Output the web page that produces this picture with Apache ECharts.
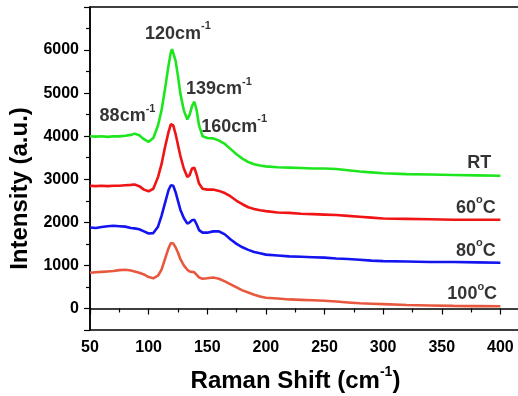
<!DOCTYPE html>
<html>
<head>
<meta charset="utf-8">
<script src="https://cdn.jsdelivr.net/npm/echarts@6/dist/echarts.min.js"></script>
<style>
  html, body { margin: 0; padding: 0; background: #fff; }
  #chart { width: 518px; height: 396px; }
</style>
</head>
<body>
<div id="chart"></div>
<script>
// Raman shift (cm-1)
var shift = [50,55,60,65,70,75,80,85,88,92,96,100,104,108,111,114,117,119,120,121,123,125,127,130,133,135,137,139,141,143,146,150,155,160,165,170,175,180,185,190,195,200,210,220,230,240,250,260,270,280,290,300,320,340,360,380,400];

// intensity, one array per sample
var rtData = [4000,3990,4000,3985,4000,3995,4010,4030,4060,4020,3930,3870,3960,4250,4600,5100,5650,5950,6020,5980,5750,5400,5000,4600,4390,4500,4700,4800,4600,4250,4000,3960,3950,3900,3820,3700,3580,3480,3400,3350,3320,3300,3280,3270,3260,3250,3250,3240,3210,3180,3160,3140,3120,3110,3100,3090,3080];
var t60Data = [2850,2840,2850,2840,2850,2850,2860,2870,2880,2840,2760,2720,2780,3050,3350,3750,4100,4280,4300,4250,4050,3800,3550,3250,3050,3100,3250,3270,3100,2900,2780,2760,2760,2730,2680,2600,2500,2420,2350,2310,2280,2260,2230,2220,2200,2190,2180,2170,2150,2130,2110,2090,2080,2070,2060,2060,2060];
var t80Data = [1880,1870,1890,1910,1920,1910,1900,1870,1860,1840,1790,1740,1750,1900,2150,2450,2750,2860,2880,2850,2700,2500,2300,2100,1970,2000,2050,2060,1950,1820,1760,1760,1790,1790,1720,1600,1500,1420,1360,1310,1280,1250,1230,1210,1200,1190,1180,1160,1150,1130,1110,1100,1090,1080,1080,1070,1060];
var t100Data = [830,840,850,860,870,890,900,880,860,830,790,730,700,760,900,1150,1400,1520,1540,1510,1420,1300,1150,1000,900,860,850,840,780,720,690,700,720,690,630,560,490,420,370,320,280,250,230,210,200,190,180,160,140,120,110,100,80,70,60,55,50];

var sampleNames = ["RT", "60", "80", "100"];
var sampleColors = ["#1ee61e", "#f01414", "#1414f0", "#e8583f"];

// peak annotations
var peakLabels = ["120", "139", "88", "160"];
var peakPos = [[125, 6430], [160, 5135], [82, 4510], [173, 4270]];
// curve labels
var curvePos = [[382, 3420], [379, 2385], [379, 1390], [376, 375]];

var yLabelValues = [0, 1000, 2000, 3000, 4000, 5000, 6000];
var yTickValues = [-500, 0, 1000, 2000, 3000, 4000, 5000, 6000, 7000];
var yMinorValues = [500, 1500, 2500, 3500, 4500, 5500, 6500];

function pairs(ys) {
  var out = [];
  for (var i = 0; i < shift.length; i++) out.push([shift[i], ys[i]]);
  return out;
}

var font = "'Liberation Sans', Arial, sans-serif";
var allData = [rtData, t60Data, t80Data, t100Data];

var richBig = { fontFamily: font, fontWeight: "bold", fontSize: 18, color: "#000", lineHeight: 22, verticalAlign: "bottom" };
var richSup = { fontFamily: font, fontWeight: "bold", fontSize: 11, color: "#000", lineHeight: 22, verticalAlign: "top", padding: [0, 0, 8, 0] };

var series = [];
for (var k = 0; k < allData.length; k++) {
  series.push({
    name: sampleNames[k],
    type: "line",
    data: pairs(allData[k]),
    showSymbol: false,
    lineStyle: { color: sampleColors[k], width: 2.6 },
    animation: false
  });
}

// peak position labels
series.push({
  type: "scatter",
  data: peakPos,
  symbolSize: 0,
  silent: true,
  animation: false,
  label: {
    show: true,
    position: "inside",
    color: "#000",
    textBorderWidth: 0,
    formatter: function (p) {
      return "{a|" + peakLabels[p.dataIndex] + "cm}{s|-1}";
    },
    rich: { a: richBig, s: richSup }
  }
});

// sample labels at the right
series.push({
  type: "scatter",
  data: curvePos,
  symbolSize: 0,
  silent: true,
  animation: false,
  label: {
    show: true,
    position: "inside",
    color: "#000",
    textBorderWidth: 0,
    formatter: function (p) {
      if (p.dataIndex === 0) return "{a|RT}";
      return "{a|" + sampleNames[p.dataIndex] + "}{s|o}{a|C}";
    },
    rich: { a: richBig, s: richSup }
  }
});

var myChart = echarts.init(document.getElementById("chart"));
var option = {
  backgroundColor: "#fff",
  grid: {
    left: 90,
    top: 7,
    width: 435,
    bottom: 66,
    outerBoundsMode: "none",
    containLabel: false,
    show: true,
    borderColor: "#000",
    borderWidth: 1.5,
    backgroundColor: "transparent"
  },
  xAxis: {
    type: "value",
    min: 50,
    max: 421,
    interval: 50,
    name: "{a|Raman Shift (cm}{s|-1}{a|)}",
    nameLocation: "middle",
    nameGap: 35,
    nameTextStyle: {
      padding: [0, 24, 0, 0],
      rich: {
        a: { fontFamily: font, fontWeight: "bold", fontSize: 24, color: "#000", lineHeight: 28, verticalAlign: "bottom" },
        s: { fontFamily: font, fontWeight: "bold", fontSize: 14, color: "#000", lineHeight: 28, verticalAlign: "top", padding: [0, 0, 11, 0] }
      }
    },
    axisLine: { lineStyle: { color: "#000", width: 1.5 } },
    axisTick: { inside: false, length: 6, lineStyle: { color: "#000", width: 1.2 } },
    minorTick: { show: true, splitNumber: 2, length: 4, lineStyle: { color: "#000", width: 1.2 } },
    axisLabel: {
      fontFamily: font, fontWeight: "bold", fontSize: 16, color: "#000",
      margin: 10, showMaxLabel: false,
      formatter: function (v) { return String(v); }
    },
    splitLine: { show: false }
  },
  yAxis: [
    {
      type: "value",
      min: -500,
      max: 7000,
      name: "Intensity (a.u.)",
      nameLocation: "middle",
      nameGap: 58,
      nameTextStyle: {
        fontFamily: font, fontWeight: "bold", fontSize: 24, color: "#000",
        padding: [0, 40, 0, 0]
      },
      axisLine: { lineStyle: { color: "#000", width: 1.5 } },
      axisTick: { inside: false, length: 6, customValues: yTickValues, lineStyle: { color: "#000", width: 1.2 } },
      axisLabel: {
        customValues: yLabelValues,
        fontFamily: font, fontWeight: "bold", fontSize: 16, color: "#000", margin: 11,
        formatter: function (v) { return String(v); }
      },
      splitLine: { show: false }
    },
    {
      type: "value",
      min: -500,
      max: 7000,
      position: "left",
      axisLine: { show: false },
      axisTick: { show: true, inside: false, length: 4, customValues: yMinorValues, lineStyle: { color: "#000", width: 1.2 } },
      axisLabel: { show: false },
      splitLine: { show: false }
    }
  ],
  series: series
};
myChart.setOption(option, true);
window.addEventListener("resize", () => {
  myChart.resize();
});
</script>
</body>
</html>
